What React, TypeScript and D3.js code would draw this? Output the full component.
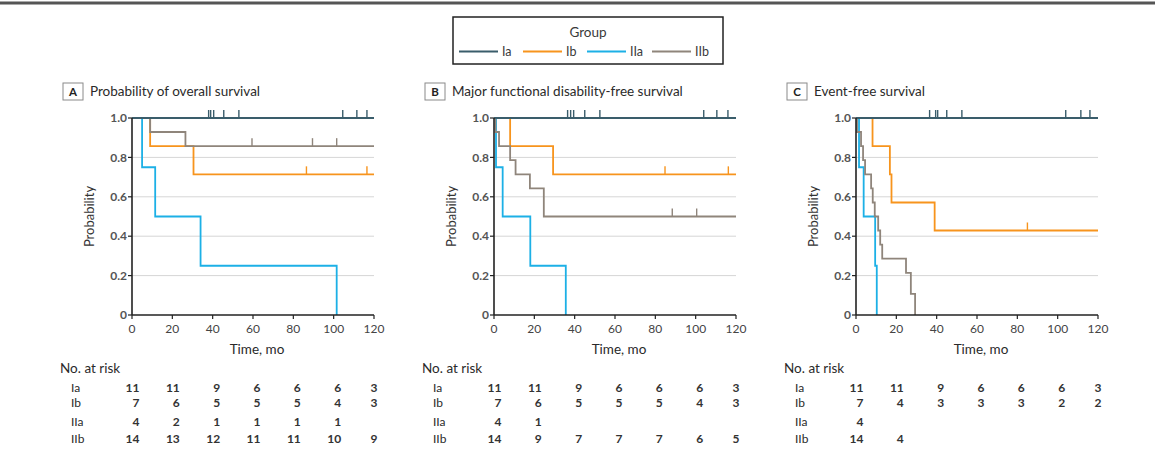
import React from "react";
import * as d3 from "d3";

// ---------- data ----------
const groups = ["Ia", "Ib", "IIa", "IIb"];
const groupColors = ["#3a5d6b", "#f7941d", "#1cb0e6", "#8f857b"];
const timeTicks = [0, 20, 40, 60, 80, 100, 120];
const probTicks = [0, 0.2, 0.4, 0.6, 0.8, 1.0];
const panelLetters = ["A", "B", "C"];
const panelTitles = [
  "Probability of overall survival",
  "Major functional disability-free survival",
  "Event-free survival",
];

// steps: [time, survival after drop]; censor: times
const aIaSteps: [number, number][] = [];
const aIaCensor = [38, 39, 40.5, 45.5, 53, 104.5, 111.5, 116.5];
const aIbSteps: [number, number][] = [[9, 0.857], [30.5, 0.714]];
const aIbCensor = [86.5, 116.5];
const aIIaSteps: [number, number][] = [[5, 0.75], [11.5, 0.5], [34, 0.25], [101.5, 0]];
const aIIaCensor: number[] = [];
const aIIbSteps: [number, number][] = [[9, 0.929], [26.5, 0.857]];
const aIIbCensor = [59.5, 89.5, 101.5];

const bIaSteps: [number, number][] = [];
const bIaCensor = [36.5, 38, 39.5, 45, 52.5, 104, 110.5, 116];
const bIbSteps: [number, number][] = [[8, 0.857], [29.3, 0.714]];
const bIbCensor = [84.8, 116.2];
const bIIaSteps: [number, number][] = [[1, 0.75], [4.3, 0.5], [18, 0.25], [35.6, 0]];
const bIIaCensor: number[] = [];
const bIIbSteps: [number, number][] = [
  [0.7, 0.929], [2.5, 0.857], [8, 0.786], [10.7, 0.714], [17.8, 0.643], [24.7, 0.5],
];
const bIIbCensor = [88.4, 100.5];

const cIaSteps: [number, number][] = [];
const cIaCensor = [36.5, 39.5, 40.5, 45, 52.5, 104, 111.5, 116];
const cIbSteps: [number, number][] = [[8.2, 0.857], [16.8, 0.714], [17.6, 0.571], [39, 0.429]];
const cIbCensor = [85];
const cIIaSteps: [number, number][] = [[1.5, 0.75], [3.8, 0.5], [9.5, 0.25], [10.3, 0]];
const cIIaCensor: number[] = [];
const cIIbSteps: [number, number][] = [
  [0.5, 0.929], [2.5, 0.857], [3.5, 0.786], [4.5, 0.714], [7.5, 0.643], [8.3, 0.571],
  [9.3, 0.5], [11, 0.429], [12, 0.357], [13, 0.286], [24.8, 0.214], [27.2, 0.107], [29.3, 0],
];
const cIIbCensor: number[] = [];

const aRisk = [
  ["11", "11", "9", "6", "6", "6", "3"],
  ["7", "6", "5", "5", "5", "4", "3"],
  ["4", "2", "1", "1", "1", "1", ""],
  ["14", "13", "12", "11", "11", "10", "9"],
];
const bRisk = [
  ["11", "11", "9", "6", "6", "6", "3"],
  ["7", "6", "5", "5", "5", "4", "3"],
  ["4", "1", "", "", "", "", ""],
  ["14", "9", "7", "7", "7", "6", "5"],
];
const cRisk = [
  ["11", "11", "9", "6", "6", "6", "3"],
  ["7", "4", "3", "3", "3", "2", "2"],
  ["4", "", "", "", "", "", ""],
  ["14", "4", "", "", "", "", ""],
];

const panels = [
  {
    steps: [aIaSteps, aIbSteps, aIIaSteps, aIIbSteps],
    censor: [aIaCensor, aIbCensor, aIIaCensor, aIIbCensor],
    risk: aRisk,
  },
  {
    steps: [bIaSteps, bIbSteps, bIIaSteps, bIIbSteps],
    censor: [bIaCensor, bIbCensor, bIIaCensor, bIIbCensor],
    risk: bRisk,
  },
  {
    steps: [cIaSteps, cIbSteps, cIIaSteps, cIIbSteps],
    censor: [cIaCensor, cIbCensor, cIIaCensor, cIIbCensor],
    risk: cRisk,
  },
];

// ---------- layout ----------
const W = 1155;
const H = 464;
const FONT = "Lato, 'Open Sans', sans-serif";
const panelLeft = [132, 494, 856];
const plotW = 242;
const yTop = 118;
const yBottom = 315;
const riskRowY = [391.5, 407, 425.5, 443];
const drawOrder = [2, 1, 3, 0];

function survAt(steps: [number, number][], t: number) {
  let s = 1;
  for (const [tt, v] of steps) if (tt <= t) s = v;
  return s;
}

function Panel({ idx }: { idx: number }) {
  const p = panels[idx];
  const left = panelLeft[idx];
  const x = d3.scaleLinear().domain([0, 120]).range([left, left + plotW]);
  const y = d3.scaleLinear().domain([0, 1]).range([yBottom, yTop]);
  const line = d3
    .line<[number, number]>()
    .x((d) => x(d[0]))
    .y((d) => y(d[1]))
    .curve(d3.curveStepAfter);

  return (
    <g>
      {/* title */}
      <rect x={left - 69} y={83} width={20} height={17} fill="#fff" stroke="#8a8a8a" strokeWidth={1} />
      <text x={left - 59} y={96} textAnchor="middle" fontFamily={FONT} fontSize={11.5} fontWeight={700} fill="#222">
        {panelLetters[idx]}
      </text>
      <text x={left - 42} y={96} fontFamily={FONT} fontSize={13.5} fill="#2a2a2a">
        {panelTitles[idx]}
      </text>

      {/* grid */}
      {probTicks
        .filter((v) => v > 0 && v < 1)
        .map((v) => (
          <line key={v} x1={left} x2={left + plotW} y1={y(v)} y2={y(v)} stroke="#d6d6d6" strokeWidth={1} />
        ))}

      {/* curves */}
      {drawOrder.map((g) => {
        const steps = p.steps[g];
        const last = steps.length ? steps[steps.length - 1] : null;
        const dropsToZero = !!last && last[1] === 0;
        const pts: [number, number][] = [[0, 1], ...steps];
        if (!dropsToZero) pts.push([120, survAt(steps, 120)]);
        return (
          <g key={g}>
            <path d={line(pts) || ""} fill="none" stroke={groupColors[g]} strokeWidth={1.8} />
            {p.censor[g].map((t, i) => {
              const s = survAt(steps, t);
              return (
                <line
                  key={i}
                  x1={x(t)}
                  x2={x(t)}
                  y1={y(s)}
                  y2={y(s) - 8}
                  stroke={groupColors[g]}
                  strokeWidth={1.4}
                />
              );
            })}
          </g>
        );
      })}

      {/* axes */}
      <line x1={left} x2={left} y1={yTop} y2={yBottom} stroke="#222" strokeWidth={1.6} />
      <line x1={left} x2={left + plotW} y1={yBottom} y2={yBottom} stroke="#222" strokeWidth={1.6} />
      {probTicks.map((v) => (
        <g key={v}>
          <line x1={left - 4} x2={left} y1={y(v)} y2={y(v)} stroke="#222" strokeWidth={1.2} />
          <text
            x={left - 5}
            y={y(v) + 4.2}
            textAnchor="end"
            fontFamily={FONT}
            fontSize={12}
            fontWeight={700}
            fill="#555"
          >
            {v === 0 ? "0" : d3.format(".1f")(v)}
          </text>
        </g>
      ))}
      {timeTicks.map((t) => (
        <g key={t}>
          <line x1={x(t)} x2={x(t)} y1={yBottom} y2={yBottom + 4} stroke="#222" strokeWidth={1.2} />
          <text x={x(t)} y={332.5} textAnchor="middle" fontFamily={FONT} fontSize={12} fill="#444">
            {t}
          </text>
        </g>
      ))}
      <text
        transform={`translate(${left - 38},${(yTop + yBottom) / 2}) rotate(-90)`}
        textAnchor="middle"
        fontFamily={FONT}
        fontSize={13}
        fill="#333"
      >
        Probability
      </text>
      <text x={left + plotW / 2 + 4} y={354} textAnchor="middle" fontFamily={FONT} fontSize={13.5} fill="#2a2a2a">
        Time, mo
      </text>

      {/* risk table */}
      <text x={left - 72} y={373} fontFamily={FONT} fontSize={13.5} fill="#2a2a2a">
        No. at risk
      </text>
      {groups.map((gname, gi) => (
        <g key={gname}>
          <text x={left - 61} y={riskRowY[gi]} fontFamily={FONT} fontSize={12} fill="#2a2a2a">
            {gname}
          </text>
          {timeTicks.map((t, ti) => {
            const last = ti === timeTicks.length - 1;
            return (
              <text
                key={t}
                x={last ? x(t) : x(t) + 7.5}
                y={riskRowY[gi]}
                textAnchor={last ? "middle" : "end"}
                fontFamily={FONT}
                fontSize={12}
                fontWeight={700}
                fill="#333"
              >
                {p.risk[gi][ti]}
              </text>
            );
          })}
        </g>
      ))}
    </g>
  );
}

function Legend() {
  const boxX = 453;
  const boxW = 270;
  const itemX = [459, 523, 587, 652];
  return (
    <g>
      <rect x={boxX} y={17} width={boxW} height={47} fill="#fff" stroke="#222" strokeWidth={1.5} />
      <text x={boxX + boxW / 2} y={37} textAnchor="middle" fontFamily={FONT} fontSize={13.5} fill="#3a3a3a">
        Group
      </text>
      {groups.map((g, i) => (
        <g key={g}>
          <line x1={itemX[i]} x2={itemX[i] + 39} y1={51.5} y2={51.5} stroke={groupColors[i]} strokeWidth={1.8} />
          <text x={itemX[i] + 43} y={56} fontFamily={FONT} fontSize={12.5} fill="#3a3a3a">
            {g}
          </text>
        </g>
      ))}
    </g>
  );
}

export default function App() {
  return (
    <svg
      width={W}
      height={H}
      viewBox={`0 0 ${W} ${H}`}
      style={{ position: "absolute", left: 0, top: 0, background: "#fff" }}
    >
      <rect x={0} y={0} width={W} height={H} fill="#fff" />
      <rect x={0} y={1.5} width={W} height={3} fill="#555" />
      <Legend />
      {panels.map((_, i) => (
        <Panel key={i} idx={i} />
      ))}
    </svg>
  );
}
